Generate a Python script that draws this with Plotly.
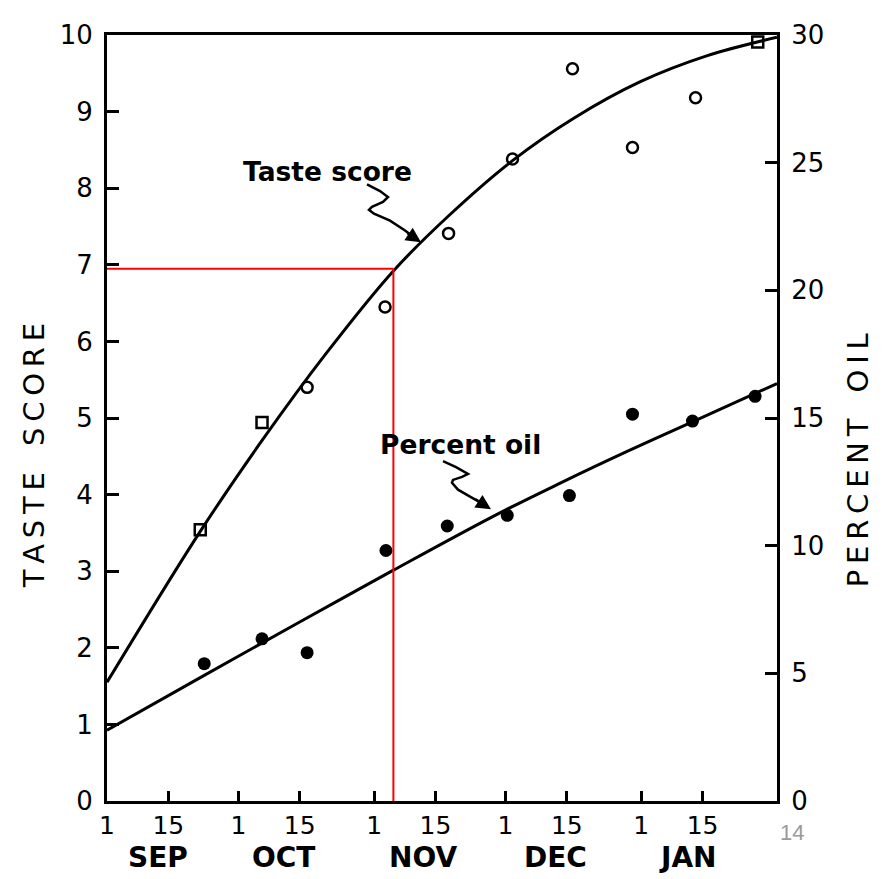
import plotly.graph_objects as go

# ---------------- data (days since 1 September) ----------------
TASTE_DAYS = [21.3, 35.4, 45.7, 63.5, 78.0, 92.6, 106.3, 120.0, 134.4, 148.6]
TASTE_SCORES = [3.54, 4.94, 5.40, 6.45, 7.41, 8.38, 9.56, 8.53, 9.18, 9.91]

OIL_DAYS = [22.2, 35.4, 45.7, 63.7, 77.7, 91.4, 105.6, 120.0, 133.7, 148.0]
OIL_PERCENT = [5.38, 6.35, 5.81, 9.81, 10.77, 11.19, 11.96, 15.15, 14.88, 15.85]

TASTE_FIT_DAYS = [0, 21.3, 35.7, 50.0, 65.4, 78.4, 92.6, 106.5, 121.8, 137.1, 153.0]
TASTE_FIT = [1.55, 3.52, 4.73, 5.84, 6.92, 7.66, 8.36, 8.91, 9.39, 9.73, 9.97]

OIL_FIT_DAYS = [0, 22.0, 44.1, 65.4, 88.2, 103.5, 118.9, 133.3, 153.0]
OIL_FIT = [2.77, 4.90, 7.02, 9.04, 11.15, 12.45, 13.70, 14.82, 16.35]

REF_DAY = 65.4
REF_SCORE = 6.95

TICK_DAYS = [0, 14, 30, 44, 61, 75, 91, 105, 122, 136]
TICK_TEXT = ["1", "15", "1", "15", "1", "15", "1", "15", "1", "15"]
MONTH_DAYS = [11.7, 40.2, 72.2, 102.4, 132.6]
MONTH_TEXT = ["SEP", "OCT", "NOV", "DEC", "JAN"]

# ---------------- styles ----------------
TASTE_SYMBOLS = ["square-open", "square-open", "circle-open", "circle-open", "circle-open",
                 "circle-open", "circle-open", "circle-open", "circle-open", "square-open"]
FONT = "DejaVu Sans, Verdana, sans-serif"

# the page body has an 8px margin: the figure starts at (8, 8) in the window
OFF = 8
WIN_W, WIN_H = 885, 879
L, R, T, B = 107, 777, 21, 801  # plot area in window pixels


def px(x, y):
    """window pixel -> paper coordinates (for callout decorations only)"""
    return (x - L) / (R - L), (B - y) / (B - T)


fig = go.Figure()

fig.add_trace(go.Scatter(x=TASTE_FIT_DAYS, y=TASTE_FIT, mode="lines",
                         line=dict(color="black", width=3, shape="spline", smoothing=1.0),
                         showlegend=False, hoverinfo="skip"))
fig.add_trace(go.Scatter(x=TASTE_DAYS, y=TASTE_SCORES, mode="markers",
                         marker=dict(symbol=TASTE_SYMBOLS, size=11, color="black",
                                     line=dict(color="black", width=2.5)),
                         showlegend=False, name="Taste score"))
fig.add_trace(go.Scatter(x=OIL_FIT_DAYS, y=OIL_FIT, mode="lines", yaxis="y2",
                         line=dict(color="black", width=3, shape="spline", smoothing=1.0),
                         showlegend=False, hoverinfo="skip"))
fig.add_trace(go.Scatter(x=OIL_DAYS, y=OIL_PERCENT, mode="markers", yaxis="y2",
                         marker=dict(symbol="circle", size=13, color="black"),
                         showlegend=False, name="Percent oil"))

# red reference lines
fig.add_shape(type="line", xref="x", yref="y", x0=0, x1=REF_DAY, y0=REF_SCORE, y1=REF_SCORE,
              line=dict(color="#ff0000", width=2), layer="above")
fig.add_shape(type="line", xref="x", yref="y", x0=REF_DAY, x1=REF_DAY, y0=-0.05, y1=REF_SCORE,
              line=dict(color="#ff0000", width=2), layer="above")


# squiggly callout paths
def path_from(points):
    pts = [px(x, y) for x, y in points]
    d = "M {:.4f},{:.4f}".format(*pts[0])
    for p in pts[1:]:
        d += " L {:.4f},{:.4f}".format(*p)
    return d


taste_sq = [(367, 173), (380, 180), (388, 186), (383, 191), (372, 196), (369, 199),
            (374, 203), (390, 210), (405, 220), (414, 227)]
oil_sq = [(443, 455), (456, 461), (468, 468), (462, 471), (453, 474), (452, 477),
          (458, 484), (470, 491), (482, 498)]
for pts in (taste_sq, oil_sq):
    fig.add_shape(type="path", xref="paper", yref="paper", path=path_from(pts),
                  line=dict(color="black", width=2.5))

for (tx, ty), (sx, sy) in (((421, 232), (414, 227)), ((491, 504), (482, 498))):
    x_, y_ = px(tx, ty)
    fig.add_annotation(xref="paper", yref="paper", x=x_, y=y_, axref="pixel", ayref="pixel",
                       ax=sx - tx - 8, ay=sy - ty - 5, text="", showarrow=True,
                       arrowhead=2, arrowsize=1.2, arrowwidth=2.5, arrowcolor="black")

# callout texts
for txt, (cx, cy) in (("Taste score", (327, 160)), ("Percent oil", (460, 438))):
    x_, y_ = px(cx, cy)
    fig.add_annotation(xref="paper", yref="paper", x=x_, y=y_, text="<b>%s</b>" % txt,
                       showarrow=False, font=dict(family=FONT, size=26.5, color="black"),
                       xanchor="center", yanchor="middle")

# month labels
for d, m in zip(MONTH_DAYS, MONTH_TEXT):
    fig.add_annotation(xref="x", yref="paper", x=d, y=px(0, 859)[1], text="<b>%s</b>" % m,
                       showarrow=False, font=dict(family=FONT, size=28, color="black"),
                       xanchor="center", yanchor="middle")

# axis titles
TS = "\u2009"
left_title = TS.join("TASTE") + TS + "\u2002" + TS + TS.join("SCORE")
right_title = TS.join("PERCENT") + TS + "\u2002" + TS + TS.join("OIL")
tx, ty = px(34, 450)
fig.add_annotation(xref="paper", yref="paper", x=tx, y=ty, text=left_title,
                   textangle=-90, showarrow=False,
                   font=dict(family=FONT, size=29, color="black"),
                   xanchor="center", yanchor="middle")
tx, ty = px(858, 454)
fig.add_annotation(xref="paper", yref="paper", x=tx, y=ty, text=right_title,
                   textangle=-90, showarrow=False,
                   font=dict(family=FONT, size=29, color="black"),
                   xanchor="center", yanchor="middle")

# page number
pnx, pny = px(792, 833)
fig.add_annotation(xref="paper", yref="paper", x=pnx, y=pny, text="14", showarrow=False,
                   font=dict(family="Liberation Sans, Arial, sans-serif", size=22, color="#9a9a9a"),
                   xanchor="center", yanchor="middle")

axis_common = dict(showline=True, linecolor="black", linewidth=3, ticks="inside",
                   tickwidth=3, tickcolor="black", showgrid=False, zeroline=False,
                   tickfont=dict(family=FONT, size=26, color="black"))

fig.update_layout(
    width=WIN_W - OFF, height=WIN_H - OFF,
    margin=dict(l=L - OFF, r=WIN_W - R, t=T - OFF, b=WIN_H - B, pad=0),
    paper_bgcolor="white", plot_bgcolor="white",
    showlegend=False,
    xaxis=dict(range=[0, 153], tickvals=TICK_DAYS, ticktext=TICK_TEXT, ticklen=10,
               mirror=True, ticklabelstandoff=0, **axis_common),
    yaxis=dict(range=[0, 10], tickvals=list(range(0, 11)), ticklen=12,
               ticklabelstandoff=6, **axis_common),
    yaxis2=dict(range=[0, 30], tickvals=list(range(0, 31, 5)), ticklen=12, overlaying="y",
                side="right", ticklabelstandoff=6, **axis_common),
)

fig.update_xaxes(tickfont=dict(family=FONT, size=25, color="black"))

fig.write_html("out.html")
